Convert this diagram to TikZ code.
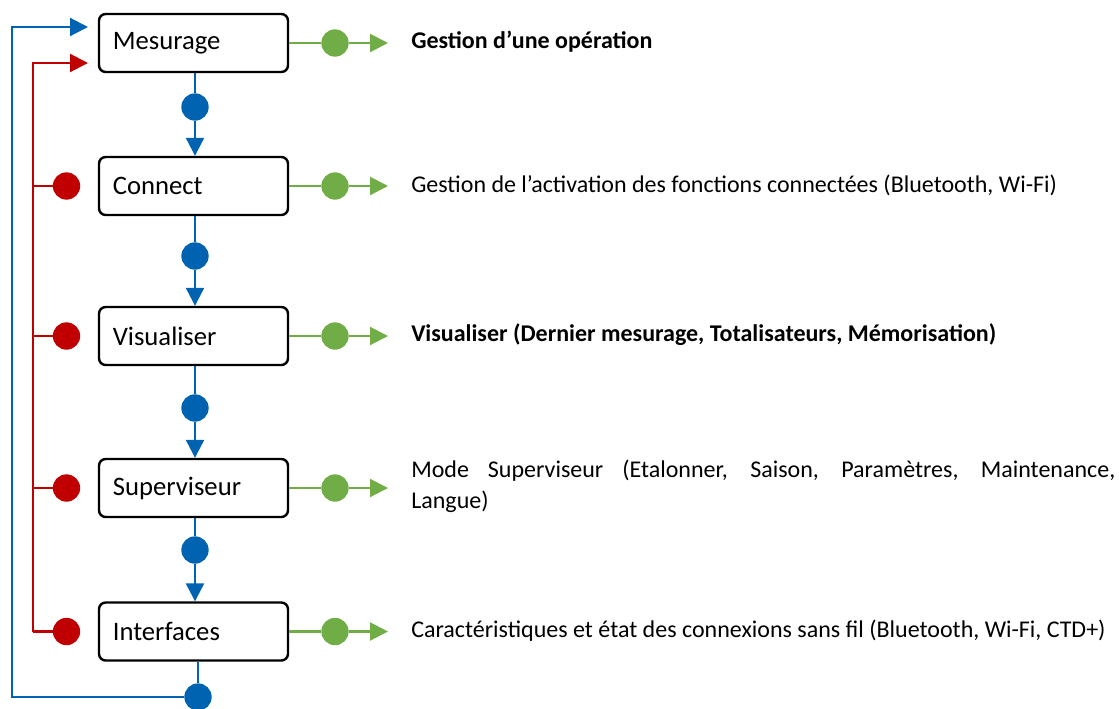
\documentclass[tikz,border=0pt]{standalone}
\usepackage{fontspec}
\setmainfont{Carlito}
\usetikzlibrary{arrows.meta}

\definecolor{menublue}{RGB}{0,99,178}
\definecolor{menured}{RGB}{192,0,0}
\definecolor{menugreen}{RGB}{112,173,71}

\newcommand\menulabelstyle{\fontsize{20}{23}\selectfont}
\newcommand\menuinfostyle{\fontsize{18}{23}\selectfont}
\newcommand\menutip{[-{Triangle[length=13.5pt, width=13.5pt]}]}

\tikzset{
  menubox/.style={draw, line width=1.8pt, rounded corners=5pt, minimum width=141.75pt, minimum height=43.5pt,
    text width=121pt, inner xsep=10pt, align=left, font=\menulabelstyle},
  menudot/.style={circle, fill=#1, inner sep=0pt, minimum size=20.5pt},
  menuinfo/.style={anchor=west, inner sep=0pt, font=\menuinfostyle},
  blueline/.style={draw=menublue, line width=1.6pt},
  redline/.style={draw=menured, line width=1.6pt},
  greenline/.style={draw=menugreen, line width=1.6pt},
}

% one menu entry: name, y, label, info text
\newcommand\menuentry[4]{
  \node[menubox] (#1) at (193.5, #2) {#3} ;
  \node[menudot=menugreen] (#1g) at (335, #2) {} ;
  \coordinate (#1a) at (388, #2) ;
  \draw[greenline] (#1) -- (#1g) ;
  \draw[greenline]\menutip (#1g) -- (#1a) ;
  \node[menuinfo] (#1t) at (411, #2 - 1) {#4} ;
}

\begin{document}
\begin{tikzpicture}[x=0.75pt, y=-0.75pt]
  \useasboundingbox (0, 0) rectangle (1119, 708) ;
  \menuentry{mes}{43}{Mesurage}{\textbf{Gestion d’une opération}}
  \menuentry{con}{186}{Connect}{Gestion de l’activation des fonctions connectées (Bluetooth, Wi-Fi)}
  \menuentry{vis}{336}{Visualiser}{\textbf{Visualiser (Dernier mesurage, Totalisateurs, Mémorisation)}}
  \menuentry{sup}{488}{Superviseur}{}
  \menuentry{int}{631.5}{Interfaces}{Caractéristiques et état des connexions sans fil (Bluetooth, Wi-Fi, CTD+)}
  \node[menuinfo, anchor=north west, text width=528pt, align=justify] (supx) at (411, 460) {%
    Mode Superviseur (Etalonner, Saison, Paramètres, Maintenance,\linebreak Langue)} ;
  % blue chain
  \node[menudot=menublue] (b1) at (195, 107) {} ;
  \node[menudot=menublue] (b2) at (195, 256) {} ;
  \node[menudot=menublue] (b3) at (195, 408) {} ;
  \node[menudot=menublue] (b4) at (195, 550) {} ;
  \node[menudot=menublue] (b5) at (198, 697) {} ;
  \draw[blueline] (mes.south -| b1) -- (b1) ;
  \draw[blueline]\menutip (b1) -- (b1 |- con.north) ;
  \draw[blueline] (con.south -| b2) -- (b2) ;
  \draw[blueline]\menutip (b2) -- (b2 |- vis.north) ;
  \draw[blueline] (vis.south -| b3) -- (b3) ;
  \draw[blueline]\menutip (b3) -- (b3 |- sup.north) ;
  \draw[blueline] (sup.south -| b4) -- (b4) ;
  \draw[blueline]\menutip (b4) -- (b4 |- int.north) ;
  \draw[blueline] (int.south -| b5) -- (b5) ;
  \coordinate (bluein) at (88, 27) ;
  \coordinate (bluecorner) at (12, 697) ;
  \draw[blueline]\menutip (b5) -- (bluecorner) |- (bluein) ;
  % red return
  \coordinate (redin) at (88, 63) ;
  \coordinate (redcorner) at (33, 631.5) ;
  \foreach \n/\y in {r1/186, r2/336, r3/488, r4/631.5} {
    \node[menudot=menured] (\n) at (66.5, \y) {} ;
    \draw[redline] (\n) -- (33, \y) ;
  }
  \draw[redline]\menutip (redcorner) |- (redin) ;
\end{tikzpicture}
\end{document}
